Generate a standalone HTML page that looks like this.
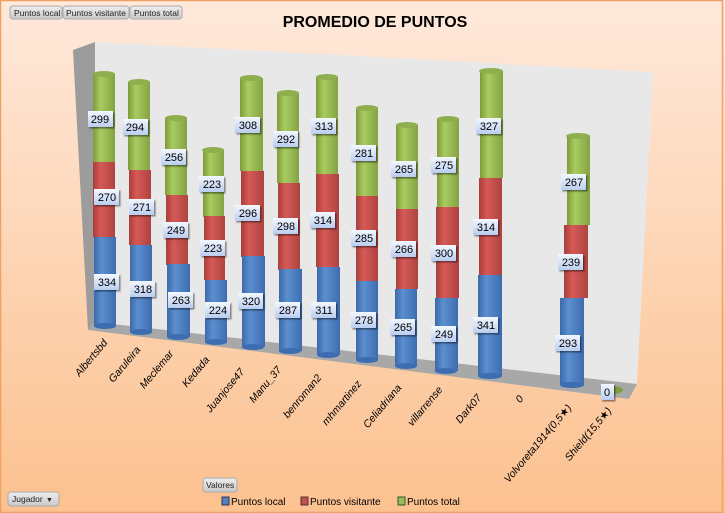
<!DOCTYPE html>
<html><head><meta charset="utf-8"><style>
body{margin:0;width:725px;height:513px;overflow:hidden}
svg{display:block;font-family:"Liberation Sans","DejaVu Sans",sans-serif}
.lb{font-size:11px;fill:#000}
.ax{font-size:10.5px;font-style:italic;fill:#000}
</style></head><body>
<svg width="725" height="513" viewBox="0 0 725 513">
<defs>
<linearGradient id="bg" x1="0" y1="0" x2="0" y2="1"><stop offset="0" stop-color="#fee9db"/><stop offset="1" stop-color="#fcc18f"/></linearGradient>
<linearGradient id="gb" x1="0" x2="1"><stop offset="0" stop-color="#3b6aa8"/><stop offset=".35" stop-color="#5b8fd0"/><stop offset="1" stop-color="#3d6db0"/></linearGradient>
<linearGradient id="gr" x1="0" x2="1"><stop offset="0" stop-color="#a83e3b"/><stop offset=".35" stop-color="#d65a56"/><stop offset="1" stop-color="#ae4340"/></linearGradient>
<linearGradient id="gg" x1="0" x2="1"><stop offset="0" stop-color="#7f9a3d"/><stop offset=".35" stop-color="#a8cc5f"/><stop offset="1" stop-color="#84a243"/></linearGradient>
<linearGradient id="lbg" x1="0" y1="0" x2="0" y2="1"><stop offset="0" stop-color="#f4f8ff"/><stop offset="1" stop-color="#b9cdf0"/></linearGradient>
<linearGradient id="btn" x1="0" y1="0" x2="0" y2="1"><stop offset="0" stop-color="#eeeeee"/><stop offset="1" stop-color="#c9c9c9"/></linearGradient>
<filter id="sh" x="-20%" y="-20%" width="150%" height="150%"><feDropShadow dx="1.5" dy="1.5" stdDeviation="0.8" flood-opacity="0.45"/></filter>
</defs>
<rect width="725" height="513" fill="url(#bg)"/>
<rect x="0.5" y="0.5" width="722" height="512" fill="none" stroke="#f0a060" stroke-width="1.5"/>
<!-- buttons -->
<g font-size="8.5" fill="#222">
<rect x="10" y="6" width="52" height="13" rx="3" fill="url(#btn)" stroke="#aaa"/><text x="14" y="16">Puntos local</text>
<rect x="63" y="6" width="66" height="13" rx="3" fill="url(#btn)" stroke="#aaa"/><text x="66" y="16">Puntos visitante</text>
<rect x="130" y="6" width="52" height="13" rx="3" fill="url(#btn)" stroke="#aaa"/><text x="134" y="16">Puntos total</text>
<rect x="203" y="478" width="34" height="14" rx="3" fill="url(#btn)" stroke="#aaa"/><text x="206" y="488">Valores</text>
<rect x="8" y="492" width="51" height="14" rx="3" fill="url(#btn)" stroke="#aaa"/><text x="12" y="502">Jugador</text><text x="46" y="502" font-size="7">▼</text>
</g>
<text x="375" y="27" text-anchor="middle" font-size="16" font-weight="bold" fill="#000">PROMEDIO DE PUNTOS</text>
<!-- walls -->
<polygon points="95,42 653,72 637,384 95,322" fill="#e8e8e8"/>
<polygon points="73,50 95,42 95,322 88,330" fill="#9c9c9c"/>
<polygon points="88,330 95,322 637,384 629,399" fill="#a8a8a8"/>
<!-- bars -->
<g id="bars"></g>
<g>
<!-- each bar: green top, red, blue -->
<g>
<rect x="93" y="74" width="22" height="88" fill="url(#gg)"/><rect x="93" y="162" width="22" height="75" fill="url(#gr)"/><rect x="94" y="237" width="22" height="89" fill="url(#gb)"/><ellipse cx="105" cy="326" rx="11" ry="3" fill="#3d6db0"/><ellipse cx="104" cy="74" rx="11" ry="3" fill="#8fae4d"/>
<rect x="128" y="82" width="22" height="88" fill="url(#gg)"/><rect x="129" y="170" width="22" height="75" fill="url(#gr)"/><rect x="130" y="245" width="22" height="87" fill="url(#gb)"/><ellipse cx="141" cy="332" rx="11" ry="3" fill="#3d6db0"/><ellipse cx="139" cy="82" rx="11" ry="3" fill="#8fae4d"/>
<rect x="165" y="118" width="22" height="77" fill="url(#gg)"/><rect x="166" y="195" width="22" height="70" fill="url(#gr)"/><rect x="167" y="264" width="23" height="73" fill="url(#gb)"/><ellipse cx="178" cy="337" rx="11" ry="3" fill="#3d6db0"/><ellipse cx="176" cy="118" rx="11" ry="3" fill="#8fae4d"/>
<rect x="203" y="150" width="21" height="67" fill="url(#gg)"/><rect x="204" y="216" width="21" height="64" fill="url(#gr)"/><rect x="205" y="280" width="22" height="62" fill="url(#gb)"/><ellipse cx="216" cy="342" rx="11" ry="3" fill="#3d6db0"/><ellipse cx="213" cy="150" rx="11" ry="3" fill="#8fae4d"/>
<rect x="240" y="78" width="23" height="93" fill="url(#gg)"/><rect x="241" y="171" width="23" height="86" fill="url(#gr)"/><rect x="242" y="256" width="23" height="91" fill="url(#gb)"/><ellipse cx="253" cy="347" rx="11" ry="3" fill="#3d6db0"/><ellipse cx="251" cy="78" rx="11" ry="3" fill="#8fae4d"/>
<rect x="277" y="93" width="22" height="90" fill="url(#gg)"/><rect x="278" y="183" width="22" height="87" fill="url(#gr)"/><rect x="279" y="269" width="23" height="82" fill="url(#gb)"/><ellipse cx="290" cy="351" rx="11" ry="3" fill="#3d6db0"/><ellipse cx="288" cy="93" rx="11" ry="3" fill="#8fae4d"/>
<rect x="316" y="77" width="22" height="97" fill="url(#gg)"/><rect x="316" y="174" width="23" height="93" fill="url(#gr)"/><rect x="317" y="267" width="23" height="88" fill="url(#gb)"/><ellipse cx="328" cy="355" rx="11" ry="3" fill="#3d6db0"/><ellipse cx="327" cy="77" rx="11" ry="3" fill="#8fae4d"/>
<rect x="356" y="108" width="22" height="88" fill="url(#gg)"/><rect x="356" y="196" width="22" height="85" fill="url(#gr)"/><rect x="356" y="281" width="22" height="79" fill="url(#gb)"/><ellipse cx="367" cy="360" rx="11" ry="3" fill="#3d6db0"/><ellipse cx="367" cy="108" rx="11" ry="3" fill="#8fae4d"/>
<rect x="396" y="125" width="22" height="84" fill="url(#gg)"/><rect x="396" y="209" width="22" height="80" fill="url(#gr)"/><rect x="395" y="289" width="22" height="77" fill="url(#gb)"/><ellipse cx="406" cy="366" rx="11" ry="3" fill="#3d6db0"/><ellipse cx="407" cy="125" rx="11" ry="3" fill="#8fae4d"/>
<rect x="437" y="119" width="22" height="88" fill="url(#gg)"/><rect x="436" y="207" width="23" height="91" fill="url(#gr)"/><rect x="435" y="298" width="23" height="73" fill="url(#gb)"/><ellipse cx="446" cy="371" rx="11" ry="3" fill="#3d6db0"/><ellipse cx="448" cy="119" rx="11" ry="3" fill="#8fae4d"/>
<rect x="480" y="71" width="23" height="107" fill="url(#gg)"/><rect x="479" y="178" width="23" height="97" fill="url(#gr)"/><rect x="478" y="275" width="24" height="101" fill="url(#gb)"/><ellipse cx="490" cy="376" rx="12" ry="3" fill="#3d6db0"/><ellipse cx="491" cy="71" rx="12" ry="3" fill="#8fae4d"/>
<rect x="567" y="136" width="23" height="89" fill="url(#gg)"/><rect x="564" y="225" width="24" height="73" fill="url(#gr)"/><rect x="560" y="298" width="24" height="87" fill="url(#gb)"/><ellipse cx="572" cy="385" rx="12" ry="3" fill="#3d6db0"/><ellipse cx="578" cy="136" rx="12" ry="3" fill="#8fae4d"/>
<ellipse cx="612" cy="390" rx="11" ry="4" fill="#7fa040"/>
</g>
</g>
<!-- labels -->
<g class="lb" text-anchor="middle">
<g filter="url(#sh)" fill="url(#lbg)">
<rect x="88" y="111" width="25" height="16"/><rect x="94" y="189" width="25" height="16"/><rect x="94" y="274" width="25" height="16"/>
<rect x="123" y="119" width="25" height="16"/><rect x="129" y="199" width="25" height="16"/><rect x="130" y="281" width="25" height="16"/>
<rect x="161" y="149" width="25" height="16"/><rect x="163" y="222" width="25" height="16"/><rect x="168" y="292" width="25" height="16"/>
<rect x="199" y="176" width="25" height="16"/><rect x="200" y="240" width="25" height="16"/><rect x="205" y="302" width="25" height="16"/>
<rect x="235" y="117" width="25" height="16"/><rect x="235" y="205" width="25" height="16"/><rect x="238" y="293" width="25" height="16"/>
<rect x="273" y="131" width="25" height="16"/><rect x="273" y="218" width="25" height="16"/><rect x="275" y="302" width="25" height="16"/>
<rect x="311" y="118" width="25" height="16"/><rect x="310" y="212" width="25" height="16"/><rect x="311" y="302" width="25" height="16"/>
<rect x="351" y="145" width="25" height="16"/><rect x="351" y="230" width="25" height="16"/><rect x="351" y="312" width="25" height="16"/>
<rect x="391" y="161" width="25" height="16"/><rect x="391" y="241" width="25" height="16"/><rect x="390" y="319" width="25" height="16"/>
<rect x="431" y="157" width="25" height="16"/><rect x="431" y="245" width="25" height="16"/><rect x="431" y="326" width="25" height="16"/>
<rect x="476" y="118" width="25" height="16"/><rect x="473" y="219" width="25" height="16"/><rect x="473" y="317" width="25" height="16"/>
<rect x="561" y="174" width="25" height="16"/><rect x="558" y="254" width="25" height="16"/><rect x="555" y="335" width="25" height="16"/>
<rect x="601" y="384" width="13" height="16"/>
</g>
<text x="100" y="123">299</text><text x="107" y="201">270</text><text x="107" y="286">334</text>
<text x="135" y="131">294</text><text x="142" y="211">271</text><text x="143" y="293">318</text>
<text x="174" y="161">256</text><text x="176" y="234">249</text><text x="181" y="304">263</text>
<text x="212" y="188">223</text><text x="213" y="252">223</text><text x="218" y="314">224</text>
<text x="248" y="129">308</text><text x="248" y="217">296</text><text x="251" y="305">320</text>
<text x="286" y="143">292</text><text x="286" y="230">298</text><text x="288" y="314">287</text>
<text x="324" y="130">313</text><text x="323" y="224">314</text><text x="324" y="314">311</text>
<text x="364" y="157">281</text><text x="364" y="242">285</text><text x="364" y="324">278</text>
<text x="404" y="173">265</text><text x="404" y="253">266</text><text x="403" y="331">265</text>
<text x="444" y="169">275</text><text x="444" y="257">300</text><text x="444" y="338">249</text>
<text x="489" y="130">327</text><text x="486" y="231">314</text><text x="486" y="329">341</text>
<text x="574" y="186">267</text><text x="571" y="266">239</text><text x="568" y="347">293</text>
<text x="607" y="396">0</text>
</g>
<!-- axis labels -->
<g class="ax" text-anchor="end">
<text transform="translate(108,343) rotate(-50)">Albertsbd</text>
<text transform="translate(141,350) rotate(-50)">Garuleira</text>
<text transform="translate(174,354) rotate(-50)">Meclemar</text>
<text transform="translate(210,360) rotate(-50)">Kedada</text>
<text transform="translate(245,372) rotate(-50)">Juanjose47</text>
<text transform="translate(282,370) rotate(-50)">Manu_37</text>
<text transform="translate(322,378) rotate(-50)">benroman2</text>
<text transform="translate(362,384) rotate(-50)">mhmartinez</text>
<text transform="translate(402,388) rotate(-50)">Celiadriana</text>
<text transform="translate(443,390) rotate(-50)">villarrense</text>
<text transform="translate(482,398) rotate(-50)">Dark07</text>
<text transform="translate(524,399) rotate(-50)">0</text>
<text transform="translate(572,408) rotate(-50)">Volvoreta1914(0,5★)</text>
<text transform="translate(612,411) rotate(-50)">Shield(15,5★)</text>
</g>
<!-- legend -->
<g font-size="10" fill="#000">
<rect x="222" y="497" width="7" height="8" fill="#4f81bd" stroke="#335"/><text x="231" y="505">Puntos local</text>
<rect x="301" y="497" width="7" height="8" fill="#c0504d" stroke="#533"/><text x="310" y="505">Puntos visitante</text>
<rect x="398" y="497" width="7" height="8" fill="#9bbb59" stroke="#353"/><text x="407" y="505">Puntos total</text>
</g>
</svg>
</body></html>
